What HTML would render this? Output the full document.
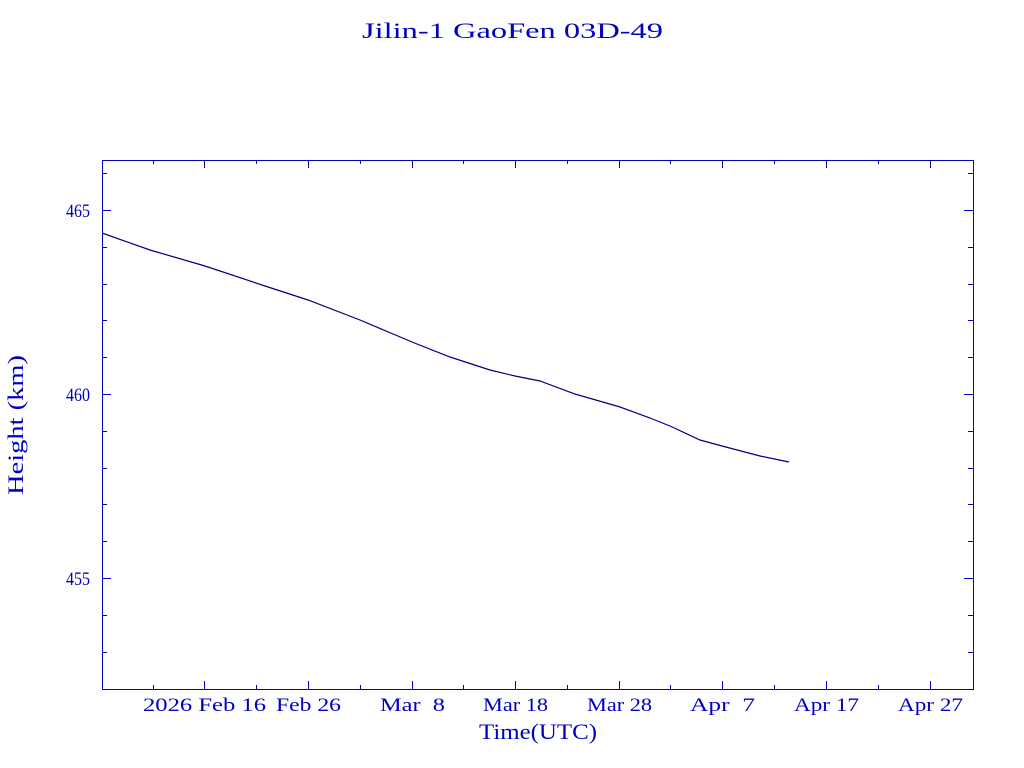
<!DOCTYPE html>
<html><head><meta charset="utf-8"><style>
html,body{margin:0;padding:0;background:#fff;width:1024px;height:768px;overflow:hidden}
text{font-family:"Liberation Serif",serif;fill:#0000c0}
</style></head><body>
<svg width="1024" height="768" xmlns="http://www.w3.org/2000/svg">
<text x="362" y="38" font-size="22" textLength="301" lengthAdjust="spacingAndGlyphs">Jilin-1 GaoFen 03D-49</text>
<rect x="102.5" y="160.5" width="871" height="529" fill="none" stroke="#0000c0" stroke-width="1"/>
<g stroke="#0000c0" stroke-width="1">
<path d="M102 210.5h9M102 394.5h9M102 578.5h9M973 210.5h-9M973 394.5h-9M973 578.5h-9"/>
<path d="M102 173.5h5M102 247.5h5M102 284.5h5M102 320.5h5M102 357.5h5M102 431.5h5M102 468.5h5M102 504.5h5M102 541.5h5M102 615.5h5M102 652.5h5
M973 173.5h-5M973 247.5h-5M973 284.5h-5M973 320.5h-5M973 357.5h-5M973 431.5h-5M973 468.5h-5M973 504.5h-5M973 541.5h-5M973 615.5h-5M973 652.5h-5"/>
<path d="M204.5 689v-8M308.5 689v-8M412.5 689v-8M515.5 689v-8M619.5 689v-8M722.5 689v-8M826.5 689v-8M930.5 689v-8
M204.5 160v8M308.5 160v8M412.5 160v8M515.5 160v8M619.5 160v8M722.5 160v8M826.5 160v8M930.5 160v8"/>
<path d="M153.5 689v-4M256.5 689v-4M360.5 689v-4M463.5 689v-4M567.5 689v-4M670.5 689v-4M774.5 689v-4M878.5 689v-4
M153.5 160v4M256.5 160v4M360.5 160v4M463.5 160v4M567.5 160v4M670.5 160v4M774.5 160v4M878.5 160v4"/>
</g>
<g font-size="19">
<text x="66" y="217" textLength="24" lengthAdjust="spacingAndGlyphs">465</text>
<text x="66" y="401" textLength="24" lengthAdjust="spacingAndGlyphs">460</text>
<text x="66" y="585" textLength="24" lengthAdjust="spacingAndGlyphs">455</text>
</g>
<g font-size="19">
<text x="143" y="711" textLength="123" lengthAdjust="spacingAndGlyphs">2026 Feb 16</text>
<text x="276" y="711" textLength="65" lengthAdjust="spacingAndGlyphs">Feb 26</text>
<text x="380" y="711" textLength="65" lengthAdjust="spacingAndGlyphs" xml:space="preserve">Mar  8</text>
<text x="483" y="711" textLength="65" lengthAdjust="spacingAndGlyphs">Mar 18</text>
<text x="587" y="711" textLength="65" lengthAdjust="spacingAndGlyphs">Mar 28</text>
<text x="690" y="711" textLength="65" lengthAdjust="spacingAndGlyphs" xml:space="preserve">Apr  7</text>
<text x="794" y="711" textLength="65" lengthAdjust="spacingAndGlyphs">Apr 17</text>
<text x="898" y="711" textLength="65" lengthAdjust="spacingAndGlyphs">Apr 27</text>
</g>
<text x="479" y="739" font-size="22" textLength="118" lengthAdjust="spacingAndGlyphs">Time(UTC)</text>
<text transform="translate(23,495) rotate(-90)" font-size="22" textLength="140" lengthAdjust="spacingAndGlyphs">Height (km)</text>
<polyline fill="none" stroke="#000080" stroke-width="1.2" points="102,233 150,250 205,266 265,286 308,300 360,320 412,342 450,357 490,370 515,376 540,381 575,394 620,407 650,418 670,426 700,440 722,446 760,456 789,462"/>
</svg>
</body></html>
